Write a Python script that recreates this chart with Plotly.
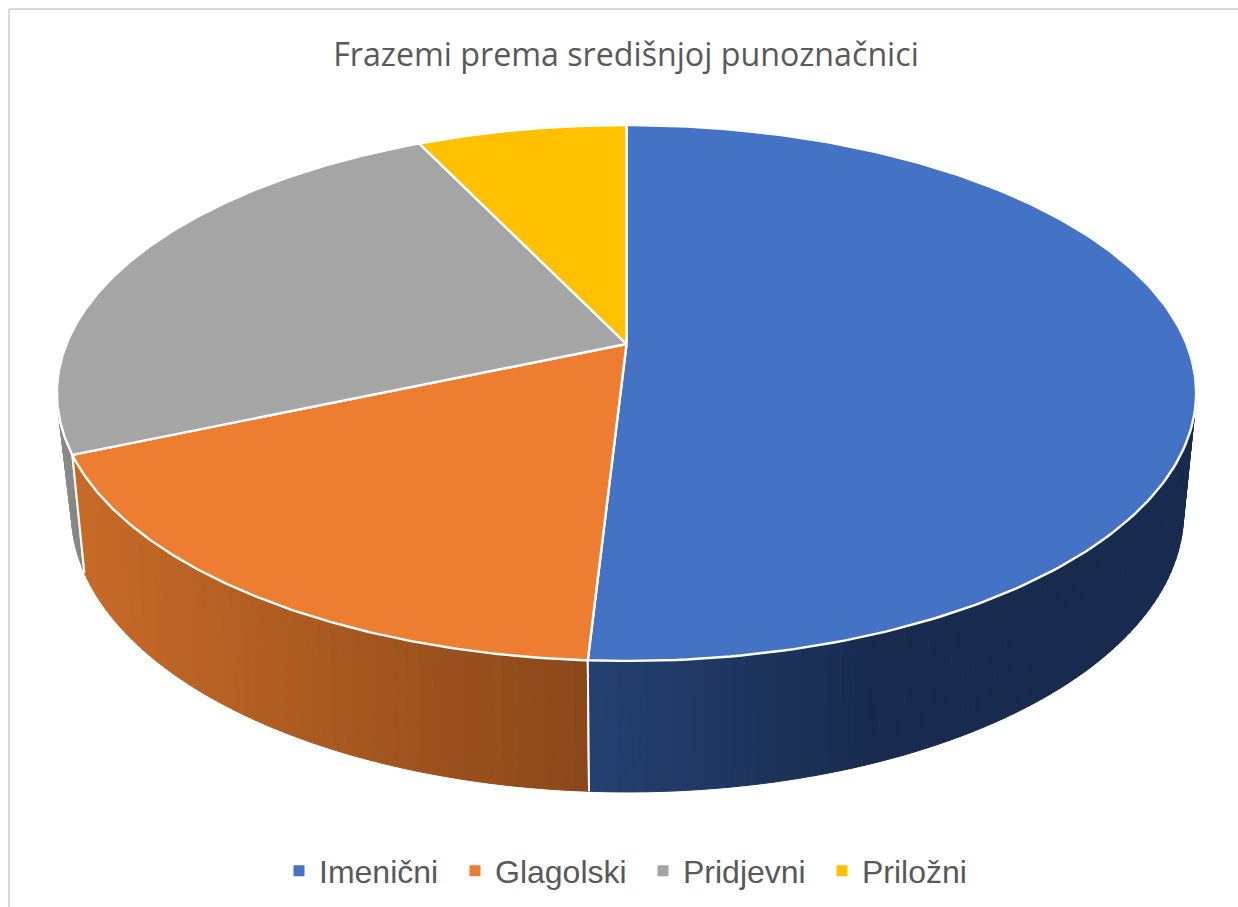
import numpy as np
import plotly.graph_objects as go

title = "Frazemi prema središnjoj punoznačnici"
categories = ["Imenični", "Glagolski", "Pridjevni", "Priložni"]
values = [50.9, 17.6, 24.4, 7.1]
face_colors = ["#4472C4", "#ED7D31", "#A5A5A5", "#FFC000"]
# side shading: colour at left / right ends of a horizontal gradient (x0, x1)
side_grad = [
    ((36, 64, 113), (24, 43, 79), 590, 870),
    ((199, 106, 39), (137, 71, 26), 85, 590),
    ((140, 140, 140), (130, 130, 130), 55, 90),
    ((150, 115, 0), (150, 115, 0), 420, 626),
]
# where each legend square sits on the page
legend_square_x = [303, 479, 667, 846]

# projection of the disc: centre x, and per-face y0, a, b, c
CX = 626.5
TOP = dict(y0=344.0, a=560.0, b=259.0, c=0.1828)
BOT = dict(y0=457.2, a=544.8, b=267.8, c=0.2)
BOT_CX_SHIFT = 1.0


def project(t, f, shift=0.0):
    X, Y = np.sin(t), -np.cos(t)
    w = 1 - f["c"] * Y
    return CX + shift + f["a"] * X / w, f["y0"] + f["b"] * Y / w


fracs = np.array(values) / sum(values)
edges = np.concatenate([[0], np.cumsum(fracs)]) * 2 * np.pi

fig = go.Figure()


def shade(x, g):
    c0, c1, x0, x1 = g
    u = min(1, max(0, (x - x0) / (x1 - x0)))
    rgb = [round(p + (q - p) * u) for p, q in zip(c0, c1)]
    return f"rgb({rgb[0]},{rgb[1]},{rgb[2]})"


# side walls, back slices first
for i in [3, 2, 1, 0]:
    t0, t1 = edges[i], edges[i + 1]
    n = max(3, int((t1 - t0) / np.radians(1.2)))
    ts = np.linspace(t0, t1, n + 1)
    for a, b in zip(ts[:-1], ts[1:]):
        sub = np.linspace(a, b, 3)
        xt, yt = project(sub, TOP)
        xb, yb = project(sub[::-1], BOT, BOT_CX_SHIFT)
        col = shade((xt.mean() + xb.mean()) / 2, side_grad[i])
        fig.add_trace(go.Scatter(
            x=np.r_[xt, xb, xt[0]], y=np.r_[yt, yb, yt[0]], mode="lines", fill="toself",
            fillcolor=col, line=dict(color=col, width=1), hoverinfo="skip", showlegend=False))
    for t in (t0, t1):
        xt, yt = project(np.array([t]), TOP)
        xb, yb = project(np.array([t]), BOT, BOT_CX_SHIFT)
        fig.add_trace(go.Scatter(
            x=[xt[0], xb[0]], y=[yt[0], yb[0]], mode="lines",
            line=dict(color="white", width=2), hoverinfo="skip", showlegend=False))

# top faces
for i in range(4):
    ts = np.linspace(edges[i], edges[i + 1], 200)
    x, y = project(ts, TOP)
    fig.add_trace(go.Scatter(
        x=np.r_[CX, x, CX], y=np.r_[TOP["y0"], y, TOP["y0"]], mode="lines", fill="toself",
        fillcolor=face_colors[i], line=dict(color="white", width=2.4),
        name=categories[i], hoverinfo="name", showlegend=False))

# legend: one single-entry legend per category, so each can sit at its own x
legend_layout = {}
for k, (name, col, sx) in enumerate(zip(categories, face_colors, legend_square_x)):
    key = "legend" if k == 0 else f"legend{k + 1}"
    fig.add_trace(go.Scatter(
        x=[None], y=[None], mode="markers", name=name, legend=key,
        marker=dict(symbol="square", size=11, color=col)))
    legend_layout[key] = dict(
        orientation="h", x=(sx - 24) / 1238, xanchor="left", y=1 - 871 / 907, yanchor="middle",
        font=dict(family="Liberation Sans", size=32, color="#595959"),
        itemwidth=30, bgcolor="rgba(0,0,0,0)")

fig.update_layout(
    width=1238, height=907, margin=dict(l=0, r=0, t=0, b=0),
    paper_bgcolor="white", plot_bgcolor="white",
    xaxis=dict(range=[0, 1238], visible=False, fixedrange=True),
    yaxis=dict(range=[907, 0], visible=False, fixedrange=True),
    title=dict(text=title, x=626 / 1238, xanchor="center", y=1 - 55 / 907, yanchor="middle",
               font=dict(family="Open Sans", size=32.2, color="#595959")),
    shapes=[
        dict(type="line", xref="x", yref="y", x0=9, x1=9, y0=9, y1=907, line=dict(color="#D9D9D9", width=2)),
        dict(type="line", xref="x", yref="y", x0=9, x1=1238, y0=9, y1=9, line=dict(color="#D9D9D9", width=2)),
    ],
    **legend_layout,
)

fig.write_html("out.html", config={"displayModeBar": False},
               post_script="document.body.style.margin='0';")
